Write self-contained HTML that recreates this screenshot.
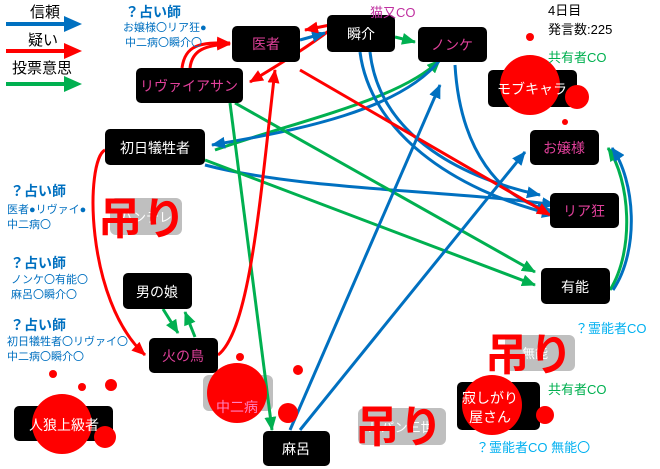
<!DOCTYPE html>
<html><head><meta charset="utf-8"><style>
body{margin:0;background:#fff;width:660px;height:469px;overflow:hidden}
svg{display:block}
text{font-family:"Liberation Sans","Noto Sans CJK JP",sans-serif}
</style></head><body>
<svg width="660" height="469" viewBox="0 0 660 469" xmlns="http://www.w3.org/2000/svg">
<defs>
<marker id="ab" markerWidth="14" markerHeight="12" refX="13" refY="6" orient="auto" markerUnits="userSpaceOnUse"><path d="M0,0L14,6L0,12z" fill="#0070c0"/></marker>
<marker id="ar" markerWidth="14" markerHeight="12" refX="13" refY="6" orient="auto" markerUnits="userSpaceOnUse"><path d="M0,0L14,6L0,12z" fill="#ff0000"/></marker>
<marker id="ag" markerWidth="14" markerHeight="12" refX="13" refY="6" orient="auto" markerUnits="userSpaceOnUse"><path d="M0,0L14,6L0,12z" fill="#00b050"/></marker>
</defs>
<!-- legend -->
<g font-size="15" fill="#000">
<text x="30" y="17">信頼</text><text x="28" y="45">疑い</text><text x="12" y="73">投票意思</text></g>
<line x1="6" y1="24" x2="66" y2="24" stroke="#0070c0" stroke-width="4"/><path d="M64,16L82,24L64,32z" fill="#0070c0"/>
<line x1="6" y1="51" x2="66" y2="51" stroke="#ff0000" stroke-width="4"/><path d="M64,43L82,51L64,59z" fill="#ff0000"/>
<line x1="6" y1="84" x2="66" y2="84" stroke="#00b050" stroke-width="4"/><path d="M64,76L82,84L64,92z" fill="#00b050"/>
<!-- grey nodes -->
<g fill="#bfbfbf"><rect x="110" y="198" width="72" height="37" rx="6"/><rect x="505" y="335" width="70" height="36" rx="6"/><rect x="358" y="408" width="88" height="37" rx="6"/><rect x="203" y="375" width="70" height="36" rx="6"/></g>
<g fill="#fff" font-size="13"><text x="120" y="222">ハンテレ</text><text x="522" y="358">無能</text><text x="368" y="432">ルパン三世</text></g>
<!-- edges -->
<g fill="none" stroke-width="3">
<path d="M215,150 C300,120 400,100 440,60" stroke="#00b050" marker-end="url(#ag)"/>
<path d="M440,60 C400,110 300,130 212,145" stroke="#0070c0" marker-end="url(#ab)"/>
<path d="M205,165 C300,190 450,190 555,205" stroke="#0070c0" marker-end="url(#ab)"/>
<path d="M205,160 L535,285" stroke="#00b050" marker-end="url(#ag)"/>
<path d="M235,103 L535,272" stroke="#00b050" marker-end="url(#ag)"/>
<path d="M230,103 L272,430" stroke="#00b050" marker-end="url(#ag)"/>
<path d="M330,30 C310,45 290,58 250,82" stroke="#ff0000" marker-end="url(#ar)"/>
<path d="M182,68 C185,45 200,42 230,43" stroke="#ff0000" marker-end="url(#ar)"/>
<path d="M190,68 C192,50 205,45 230,44" stroke="#ff0000" marker-end="url(#ar)"/>
<path d="M300,40 L325,33" stroke="#0070c0" marker-end="url(#ab)"/>
<path d="M330,25 L305,30" stroke="#ff0000" marker-end="url(#ar)"/>
<path d="M395,37 L415,42" stroke="#00b050" marker-end="url(#ag)"/>
<path d="M360,52 C370,130 450,190 555,215" stroke="#0070c0" marker-end="url(#ab)"/>
<path d="M370,52 C380,140 470,180 540,195" stroke="#0070c0" marker-end="url(#ab)"/>
<path d="M455,65 C460,150 500,200 550,210" stroke="#0070c0" marker-end="url(#ab)"/>
<path d="M300,70 L550,215" stroke="#ff0000" marker-end="url(#ar)"/>
<path d="M290,430 L440,85" stroke="#0070c0" marker-end="url(#ab)"/>
<path d="M300,430 L525,152" stroke="#0070c0" marker-end="url(#ab)"/>
<path d="M610,290 C635,250 630,180 608,148" stroke="#00b050" marker-end="url(#ag)"/>
<path d="M613,290 C640,250 635,180 612,148" stroke="#0070c0" marker-end="url(#ab)"/>
<path d="M105,150 C85,160 85,300 145,355" stroke="#ff0000" marker-end="url(#ar)"/>
<path d="M218,355 C250,330 260,200 275,70" stroke="#ff0000" marker-end="url(#ar)"/>
<path d="M163,309 L178,333" stroke="#00b050" marker-end="url(#ag)"/>
<path d="M195,337 L185,312" stroke="#00b050" marker-end="url(#ag)"/>
</g>
<!-- black nodes -->
<g fill="#000">
<rect x="232" y="26" width="68" height="36" rx="5"/><rect x="327" y="15" width="68" height="37" rx="5"/><rect x="418" y="27" width="69" height="35" rx="5"/><rect x="136" y="68" width="107" height="35" rx="5"/><rect x="488" y="70" width="89" height="37" rx="5"/><rect x="105" y="129" width="100" height="36" rx="5"/><rect x="530" y="130" width="69" height="35" rx="5"/><rect x="550" y="193" width="69" height="35" rx="5"/><rect x="541" y="268" width="69" height="36" rx="5"/><rect x="123" y="273" width="69" height="36" rx="5"/><rect x="149" y="338" width="69" height="35" rx="5"/><rect x="457" y="382" width="83" height="48" rx="5"/><rect x="14" y="406" width="99" height="35" rx="5"/><rect x="263" y="431" width="67" height="35" rx="5"/></g>
<!-- blood -->
<g fill="#ff0000">
<circle cx="530" cy="85" r="30"/><circle cx="577" cy="97" r="12"/><circle cx="530" cy="37" r="4"/><circle cx="565" cy="122" r="3"/>
<circle cx="62" cy="424" r="30"/><circle cx="105" cy="437" r="11"/><circle cx="111" cy="385" r="6"/><circle cx="82" cy="387" r="4"/><circle cx="53" cy="374" r="4"/>
<circle cx="237" cy="393" r="30"/><circle cx="288" cy="413" r="10"/><circle cx="240" cy="357" r="4"/><circle cx="298" cy="370" r="5"/>
<circle cx="492" cy="405" r="30"/><circle cx="545" cy="415" r="9"/></g>
<!-- node labels -->
<g font-size="14" text-anchor="middle">
<text x="266" y="49" fill="#e0409a">医者</text><text x="361" y="39" fill="#fff">瞬介</text><text x="452" y="50" fill="#e0409a">ノンケ</text><text x="189" y="91" fill="#e0409a">リヴァイアサン</text><text x="532" y="94" fill="#fff">モブキャラ</text><text x="155" y="153" fill="#fff">初日犠牲者</text><text x="564" y="153" fill="#e0409a">お嬢様</text><text x="584" y="216" fill="#e0409a">リア狂</text><text x="575" y="292" fill="#fff">有能</text><text x="157" y="297" fill="#fff">男の娘</text><text x="183" y="361" fill="#e0409a">火の鳥</text><text x="237" y="412" fill="#ff80c0">中二病</text><text x="490" y="403" fill="#fff">寂しがり</text><text x="490" y="422" fill="#fff">屋さん</text><text x="64" y="430" fill="#fff">人狼上級者</text><text x="296" y="454" fill="#fff">麻呂</text></g>
<!-- hang labels -->
<g font-size="44" fill="#ff0000" font-weight="bold"><text x="98" y="234">吊り</text><text x="485" y="370">吊り</text><text x="355" y="442">吊り</text></g>
<!-- annotations -->
<g fill="#0070c0">
<text x="125" y="17" font-size="14" font-weight="bold">？占い師</text><text x="123" y="31" font-size="11">お嬢様〇リア狂●</text><text x="125" y="46" font-size="11">中二病〇瞬介〇</text>
<text x="10" y="196" font-size="14" font-weight="bold">？占い師</text><text x="7" y="213" font-size="11">医者●リヴァイ●</text><text x="7" y="228" font-size="11">中二病〇</text>
<text x="10" y="268" font-size="14" font-weight="bold">？占い師</text><text x="11" y="283" font-size="11">ノンケ〇有能〇</text><text x="11" y="298" font-size="11">麻呂〇瞬介〇</text>
<text x="10" y="330" font-size="14" font-weight="bold">？占い師</text><text x="7" y="345" font-size="11">初日犠牲者〇リヴァイ〇</text><text x="7" y="360" font-size="11">中二病〇瞬介〇</text></g>
<g font-size="13"><text x="370" y="17" fill="#c030a0">猫又CO</text><text x="548" y="15" fill="#000">4日目</text><text x="548" y="34" fill="#000">発言数:225</text><text x="548" y="62" fill="#00b050">共有者CO</text><text x="548" y="394" fill="#00b050">共有者CO</text><text x="575" y="333" fill="#00b0f0">？霊能者CO</text><text x="476" y="452" fill="#00b0f0">？霊能者CO 無能〇</text></g>
</svg>
</body></html>
